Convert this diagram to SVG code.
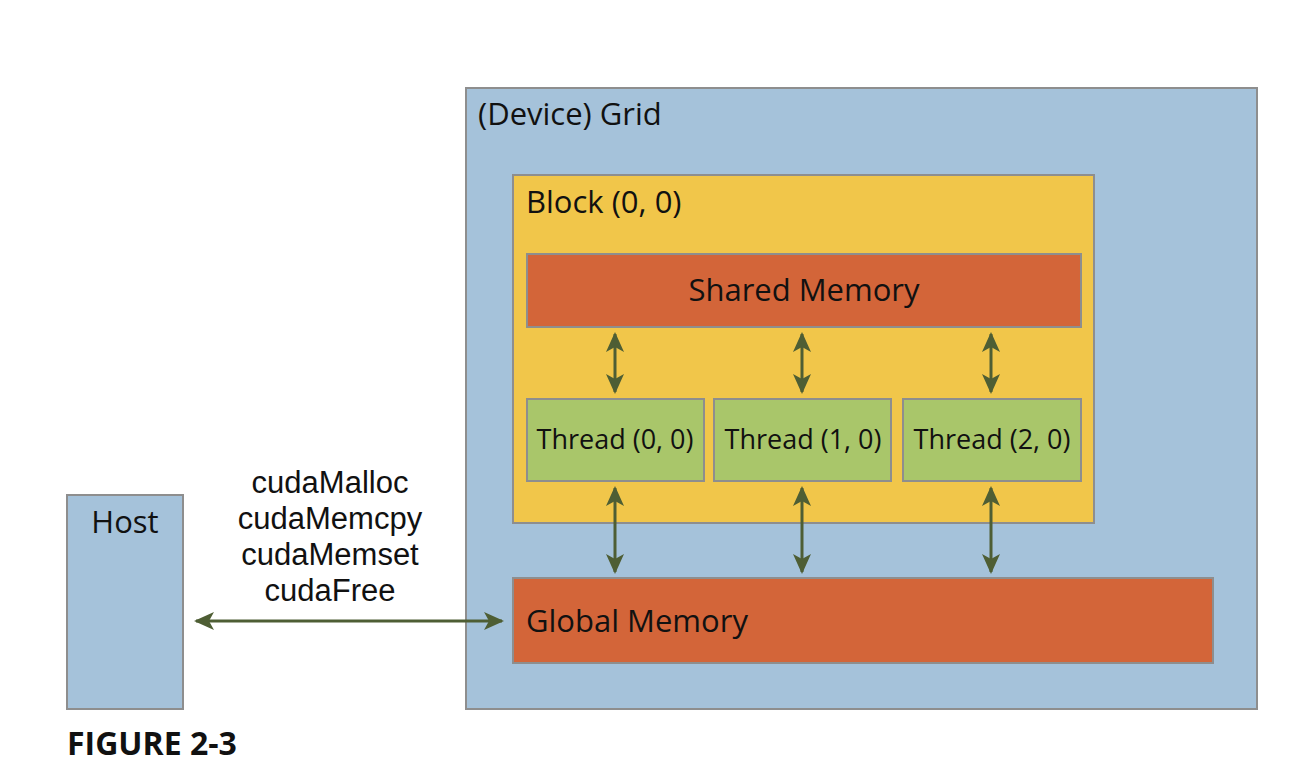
<svg xmlns="http://www.w3.org/2000/svg" width="1292" height="780" viewBox="0 0 1292 780">
<style>
.box{stroke:#8e8e8e;stroke-width:2}
.grid{fill:#a5c2da}
.block{fill:#f1c64a}
.mem{fill:#d36539}
.thr{fill:#a9c66a}
text{font-family:"Open Sans","Noto Sans","Liberation Sans",sans-serif;fill:#111}
.t{font-size:31px}
.ts{font-size:27px}
.c{font-family:"Liberation Sans",Arial,sans-serif;font-size:31px}
.h{font-size:31px}
.fig{font-size:32px;font-weight:bold}
.arr{stroke:#4e5e34;stroke-width:3;fill:none;marker-start:url(#ah);marker-end:url(#ah)}
</style>
<defs>
<marker id="ah" viewBox="0 0 20 20" refX="18" refY="10" markerWidth="20" markerHeight="20" markerUnits="userSpaceOnUse" orient="auto-start-reverse">
<path d="M0,1 L20,10 L0,19 L5,10 Z" fill="#4e5e34"/>
</marker>
</defs>
<rect width="1292" height="780" fill="#fff"/>
<g id="grid"><rect class="box grid" x="466" y="88" width="791" height="621"/><text class="t" x="478" y="125">(Device) Grid</text></g>
<g id="block"><rect class="box block" x="513" y="175" width="581" height="348"/><text class="t" x="526" y="213">Block (0, 0)</text></g>
<g id="shared"><rect class="box mem" x="527" y="254" width="554" height="73"/><text class="t" x="804" y="301" text-anchor="middle">Shared Memory</text></g>
<g id="thread0"><rect class="box thr" x="527" y="399" width="177" height="82"/><text class="ts" x="615" y="449" text-anchor="middle">Thread (0, 0)</text></g>
<g id="thread1"><rect class="box thr" x="714" y="399" width="177" height="82"/><text class="ts" x="803" y="449" text-anchor="middle">Thread (1, 0)</text></g>
<g id="thread2"><rect class="box thr" x="903" y="399" width="178" height="82"/><text class="ts" x="992" y="449" text-anchor="middle">Thread (2, 0)</text></g>
<g id="global"><rect class="box mem" x="513" y="578" width="700" height="85"/><text class="t" x="526" y="632">Global Memory</text></g>
<g id="host"><rect class="box grid" x="67" y="495" width="116" height="214"/><text class="h" x="125" y="533" text-anchor="middle">Host</text></g>
<g id="labels">
<text class="c" text-anchor="middle"><tspan x="330" y="493">cudaMalloc</tspan><tspan x="330" y="529">cudaMemcpy</tspan><tspan x="330" y="565">cudaMemset</tspan><tspan x="330" y="601">cudaFree</tspan></text>
<text class="fig" x="67" y="755">FIGURE 2-3</text>
</g>
<g id="connectors">
<line class="arr" x1="615" y1="334" x2="615" y2="392"/>
<line class="arr" x1="802" y1="334" x2="802" y2="392"/>
<line class="arr" x1="991" y1="334" x2="991" y2="392"/>
<line class="arr" x1="615" y1="488" x2="615" y2="572"/>
<line class="arr" x1="802" y1="488" x2="802" y2="572"/>
<line class="arr" x1="991" y1="488" x2="991" y2="572"/>
<line class="arr" x1="196" y1="621" x2="502" y2="621"/>
</g>
</svg>
